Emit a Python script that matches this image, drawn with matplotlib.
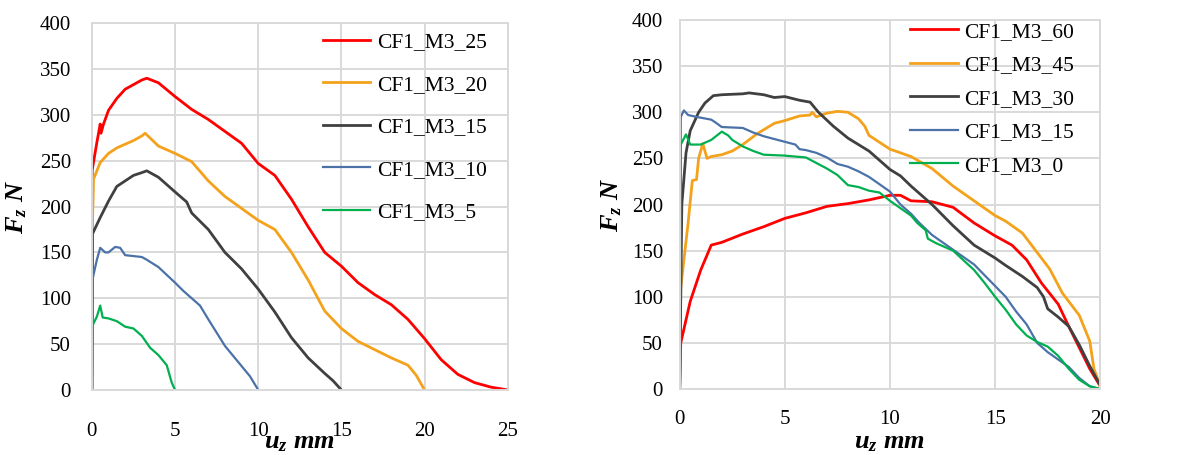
import numpy as np
import matplotlib.pyplot as plt

plt.rcParams['font.family'] = ['Liberation Serif', 'DejaVu Serif']
plt.rcParams['mathtext.fontset'] = 'custom'
plt.rcParams['mathtext.rm'] = 'Liberation Serif'
plt.rcParams['mathtext.it'] = 'Liberation Serif:italic'
plt.rcParams['mathtext.bf'] = 'Liberation Serif:bold'
plt.rcParams['mathtext.bfit'] = 'Liberation Serif:italic:bold'

# Left panel: displacement (mm) / force (N)
x25 = [0, 0.02, 0.3, 0.5, 0.55, 0.7, 1, 1.5, 2, 2.5, 3, 3.3, 4, 5, 6, 7, 8, 9, 10, 11,
       12, 13, 14, 15, 16, 17, 18, 19, 20, 21, 22, 23, 24, 25]
f25 = [0, 240, 270, 290, 280, 290, 305, 318, 328, 333, 338, 340, 335, 320, 306, 295, 282, 269, 247, 234,
       208, 178, 150, 135, 117, 104, 93, 77, 56, 33, 17, 8, 3, 0]

x20 = [0, 0.02, 0.1, 0.5, 1, 1.5, 2, 2.5, 3, 3.2, 4, 5, 6, 7, 8, 9, 10, 11, 12, 13,
       14, 15, 16, 17, 18, 19, 19.5, 20]
f20 = [0, 170, 230, 248, 258, 264, 268, 272, 277, 280, 266, 258, 249, 228, 211, 198, 185, 175, 150, 120,
       86, 67, 53, 44, 35, 27, 16, 0]

x15 = [0, 0.03, 0.5, 1, 1.5, 2, 2.5, 3, 3.3, 4, 5, 5.7, 6, 7, 8, 9, 10, 11, 12, 13, 14, 14.5, 15]
f15 = [0, 170, 188, 206, 222, 228, 234, 237, 239, 232, 216, 205, 193, 175, 150, 132, 110, 85, 57, 35, 18, 10, 0]

x10 = [0, 0.03, 0.3, 0.5, 0.8, 1, 1.4, 1.7, 2, 3, 3.3, 4, 5, 5.5, 6.5, 7, 8, 9, 9.5, 10]
f10 = [0, 120, 142, 155, 150, 150, 156, 155, 147, 145, 142, 134, 117, 108, 92, 77, 48, 26, 15, 0]

x5 = [0, 0.03, 0.3, 0.5, 0.65, 1, 1.5, 2, 2.5, 3, 3.5, 4, 4.5, 4.8, 5]
f5 = [0, 70, 80, 92, 79, 78, 75, 69, 67, 59, 46, 38, 27, 8, 0]

# Right panel
x60 = [0, 0.05, 0.3, 0.5, 1, 1.5, 2, 3, 4, 5, 6, 7, 8, 9, 10, 10.5, 11, 12, 13, 14,
       15, 15.8, 16.5, 17.2, 18, 18.5, 19, 19.5, 20]
f60 = [0, 50, 75, 95, 129, 156, 159, 168, 176, 185, 191, 198, 201, 205, 210, 210, 204, 203, 197, 180,
       166, 156, 140, 115, 92, 68, 45, 22, 3]

x45 = [0, 0.05, 0.4, 0.6, 0.8, 0.9, 1.1, 1.3, 1.5, 2, 2.5, 3, 3.7, 4.5, 5, 5.7, 6.2, 6.3, 6.5, 7,
       7.5, 8, 8.5, 8.8, 9, 10, 11, 12, 13, 14, 15, 15.5, 16.3, 17, 17.6, 18.2, 19, 19.5, 19.7, 20]
f45 = [0, 110, 180, 226, 227, 250, 266, 250, 252, 254, 258, 265, 277, 288, 291, 296, 297, 300, 295, 299,
       301, 300, 293, 285, 275, 260, 252, 239, 220, 204, 188, 182, 169, 148, 130, 104, 80, 52, 22, 3]

x30 = [0, 0.1, 0.3, 0.5, 0.9, 1.2, 1.6, 2, 3, 3.3, 4, 4.5, 5, 5.7, 6.2, 6.6, 7.3, 8, 9, 9.6,
       10, 10.5, 11, 12, 13, 14, 15, 15.5, 16.3, 17, 17.3, 17.5, 18, 18.5, 19, 19.5, 20]
f30 = [0, 200, 256, 280, 300, 310, 318, 319, 320, 321, 319, 316, 317, 313, 311, 300, 285, 272, 258, 246,
       238, 231, 220, 200, 177, 156, 142, 134, 122, 110, 100, 87, 78, 68, 48, 25, 4]

x15r = [0, 0.05, 0.2, 0.4, 0.8, 1.5, 1.7, 2, 3, 3.5, 4, 5, 5.5, 5.7, 6, 6.5, 7, 7.5, 8, 8.5,
        9, 9.5, 10, 10.5, 11, 11.4, 12, 12.5, 13, 14, 15.5, 16, 16.5, 17, 17.5, 18, 18.5, 19, 19.5, 20]
f15r = [0, 295, 302, 297, 295, 292, 289, 284, 283, 278, 274, 268, 265, 260, 259, 256, 251, 244, 241, 236,
        230, 222, 214, 200, 190, 180, 167, 159, 151, 135, 100, 84, 70, 50, 40, 32, 24, 12, 3, 0]

x0 = [0, 0.05, 0.3, 0.5, 1, 1.5, 2, 2.3, 2.5, 3, 3.5, 4, 5, 6, 6.5, 7, 7.5, 8, 8.5, 9,
      9.5, 10, 10.5, 11, 11.3, 11.7, 11.8, 12.2, 13, 14, 14.5, 15, 15.5, 16, 16.5, 17, 17.5, 18, 18.5, 19, 19.5, 20]
f0 = [0, 265, 276, 265, 265, 270, 279, 275, 270, 263, 258, 254, 253, 251, 245, 239, 232, 221, 219, 215,
      213, 204, 196, 188, 180, 172, 163, 158, 150, 129, 115, 100, 86, 70, 58, 51, 46, 36, 22, 10, 3, 0]

left_series = [(x25, f25, 'CF1_M3_25'), (x20, f20, 'CF1_M3_20'), (x15, f15, 'CF1_M3_15'),
               (x10, f10, 'CF1_M3_10'), (x5, f5, 'CF1_M3_5')]
right_series = [(x60, f60, 'CF1_M3_60'), (x45, f45, 'CF1_M3_45'), (x30, f30, 'CF1_M3_30'),
                (x15r, f15r, 'CF1_M3_15'), (x0, f0, 'CF1_M3_0')]

colors = ['#FF0000', '#F4A21C', '#404040', '#4A72A8', '#00B050']
widths = [2.0, 2.0, 2.0, 1.6, 1.6]
grid_col = '#D9D9D9'

fig = plt.figure(figsize=(11.78, 4.55), dpi=100)
ax1 = fig.add_axes([0.078, 0.143, 0.353, 0.806])
ax2 = fig.add_axes([0.577, 0.145, 0.357, 0.811])


def style_axis(ax, xmax, xpad, ypad):
    ax.set_xlim(0, xmax)
    ax.set_ylim(0, 400)
    ax.set_xticks(np.arange(0, xmax + 1, 5))
    ax.set_yticks(np.arange(0, 401, 50))
    ax.grid(True, color=grid_col, linewidth=1.4)
    ax.set_axisbelow(True)
    for s in ax.spines.values():
        s.set_color(grid_col)
        s.set_linewidth(1.4)
    ax.tick_params(length=0, labelsize=15)
    ax.tick_params(axis='x', pad=xpad)
    ax.tick_params(axis='y', pad=ypad)


for ax, series, xmax in [(ax1, left_series, 25), (ax2, right_series, 20)]:
    for (xs, fs, lab), c, w in zip(series, colors, widths):
        ax.plot(xs, fs, color=c, lw=w, label=lab)

style_axis(ax1, 25, 23, 15)
style_axis(ax2, 20, 15, 12)

leg_kw = dict(loc='upper right', frameon=False, fontsize=15.5, handlelength=2.2,
              handletextpad=0.3, borderpad=0, borderaxespad=0)
ax1.legend(labelspacing=1.04, bbox_to_anchor=(0.95, 0.975), **leg_kw)
ax2.legend(labelspacing=0.62, bbox_to_anchor=(0.938, 0.995), **leg_kw)

for ax, ylx, xly in [(ax1, -0.18, -0.145), (ax2, -0.162, -0.147)]:
    ax.set_ylabel(r'$\mathbfit{F_z}$ $\mathbfit{N}$', fontsize=19)
    ax.set_xlabel(r'$\mathbfit{u_z}$ $\mathbfit{mm}$', fontsize=19)
    ax.yaxis.set_label_coords(ylx, 0.5)
    ax.xaxis.set_label_coords(0.5, xly)
    ax.xaxis.label.set_va('center')
    ax.yaxis.label.set_va('center')

fig.savefig('out.png', dpi=100)
